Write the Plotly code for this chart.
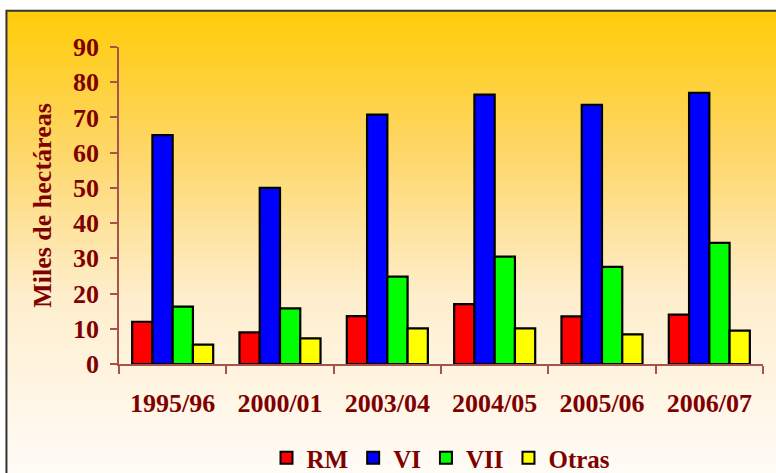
import plotly.graph_objects as go

# Superficie por temporada (miles de hectáreas)
temporadas = ["1995/96", "2000/01", "2003/04", "2004/05", "2005/06", "2006/07"]
rm = [12.0, 9.0, 13.6, 17.0, 13.5, 14.0]
vi = [65.0, 50.0, 70.8, 76.5, 73.6, 77.0]
vii = [16.3, 15.8, 24.8, 30.5, 27.6, 34.4]
otras = [5.5, 7.3, 10.1, 10.1, 8.4, 9.5]

series = [("RM", rm, "#FF0000"), ("VI", vi, "#0000FF"),
          ("VII", vii, "#00FF00"), ("Otras", otras, "#FFFF00")]

W, H = 776, 473
L, R, T, B = 119, 13.3, 46.7, 108.7
pw, ph = W - L - R, H - T - B

def px_x(x):
    return (x - L) / pw

def px_y(y):
    return (H - B - y) / ph

FONT = "Liberation Serif, Times New Roman, serif"
DARK_RED = "#800000"
AXIS_COL = "#A8524E"

fig = go.Figure()
for name, vals, col in series:
    fig.add_trace(go.Bar(
        x=temporadas, y=vals, name=name,
        marker=dict(color=col, line=dict(color="black", width=2.2)),
    ))

# Vertical gradient background inside the chart frame
x0, x1 = px_x(6.5), px_x(790)
top_px, bot_px = 10.5, 490
stops = [(0.0, (255, 204, 8)), (0.28, (254, 214, 100)),
         (0.6, (254, 238, 205)), (1.0, (255, 253, 250))]

def color_at(t):
    for (a, ca), (b, cb) in zip(stops[:-1], stops[1:]):
        if a <= t <= b:
            f = (t - a) / (b - a)
            return tuple(round(ca[i] + (cb[i] - ca[i]) * f) for i in range(3))
    return stops[-1][1]

shapes = []
n = 120
step = (bot_px - top_px) / n
for i in range(n):
    ya = top_px + i * step
    yb = ya + step + 0.6
    c = color_at((i + 0.5) / n)
    shapes.append(dict(type="rect", xref="paper", yref="paper", layer="below",
                       x0=x0, x1=x1, y0=px_y(yb), y1=px_y(ya),
                       fillcolor="rgb(%d,%d,%d)" % c, line=dict(width=0)))
# Frame
shapes.append(dict(type="rect", xref="paper", yref="paper", layer="below",
                   x0=x0, x1=x1, y0=px_y(bot_px), y1=px_y(top_px),
                   fillcolor="rgba(0,0,0,0)", line=dict(color="#333333", width=2)))

fig.update_layout(
    width=W, height=H,
    margin=dict(l=L, r=R, t=T, b=B, pad=0, autoexpand=False),
    paper_bgcolor="white", plot_bgcolor="rgba(0,0,0,0)",
    barmode="group", bargap=0.245, bargroupgap=0,
    shapes=shapes,
    font=dict(family=FONT, color=DARK_RED, size=26, weight="bold"),
    showlegend=True,
    legend=dict(orientation="h", x=0.5, xanchor="center",
                yref="container", y=1 - 458 / H, yanchor="middle",
                font=dict(size=25, family=FONT, color=DARK_RED, weight="bold"),
                bgcolor="rgba(0,0,0,0)", itemsizing="constant",
                itemwidth=30, traceorder="normal", tracegroupgap=0),
)

fig.update_xaxes(
    type="category", showgrid=False, zeroline=False, automargin=False,
    showline=True, linecolor=AXIS_COL, linewidth=1.5,
    ticks="outside", tickson="boundaries", ticklen=8, tickcolor=AXIS_COL,
    tickwidth=1.5, ticklabelstandoff=15,
    tickfont=dict(size=26, family=FONT, color=DARK_RED, weight="bold"),
)
fig.update_yaxes(
    range=[0, 90], dtick=10, showgrid=False, zeroline=False, automargin=False,
    showline=True, linecolor=AXIS_COL, linewidth=1.5,
    ticks="outside", ticklen=7, tickcolor=AXIS_COL, tickwidth=1.5,
    ticklabelstandoff=6,
    tickfont=dict(size=26, family=FONT, color=DARK_RED, weight="bold"),
    title=dict(text="Miles de hectáreas", standoff=14,
               font=dict(size=26, family=FONT, color=DARK_RED, weight="bold")),
)

fig.write_html("out.html")
